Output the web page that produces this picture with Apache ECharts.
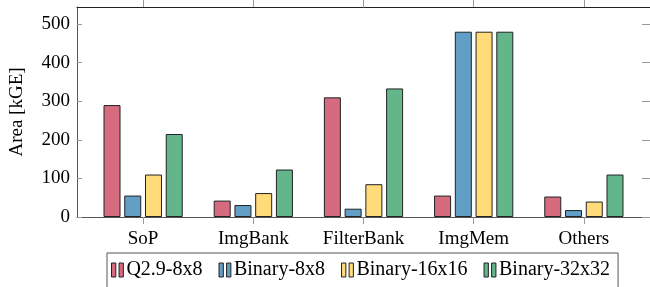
<!DOCTYPE html>
<html>
<head>
<meta charset="utf-8">
<script src="https://cdn.jsdelivr.net/npm/echarts@6/dist/echarts.min.js"></script>
<style>html,body{margin:0;padding:0;background:#fff}#c{width:650px;height:287px}</style>
</head>
<body>
<div id="c"></div>
<script>
const categories = ['SoP', 'ImgBank', 'FilterBank', 'ImgMem', 'Others'];
const seriesNames = ['Q2.9-8x8', 'Binary-8x8', 'Binary-16x16', 'Binary-32x32'];
const q29_8x8 = [290, 42.5, 310, 55.5, 53];
const binary_8x8 = [55.5, 31, 21.5, 480, 18];
const binary_16x16 = [110, 62, 85, 480, 40];
const binary_32x32 = [215, 123, 333, 480, 110];
const yTicks = [0, 100, 200, 300, 400, 500];
const colors = ['#D66A7F', '#619FC6', '#FFDB7A', '#63B68A'];

const allValues = [q29_8x8, binary_8x8, binary_16x16, binary_32x32];
const catIdx = categories.map((c, i) => i);
const font = 'Liberation Serif';
const legendIcon = 'path://M0,0h4v13h-4z M7,0h4v13h-4z';

const chart = echarts.init(document.getElementById('c'), null, {renderer: 'canvas'});
chart.setOption({
  animation: false,
  backgroundColor: '#fff',
  textStyle: {fontFamily: font},
  grid: {left: 75, right: -4, top: 7, bottom: 70, containLabel: false},
  legend: {
    left: 107, top: 253,
    data: seriesNames,
    icon: legendIcon,
    itemWidth: 12, itemHeight: 14,
    itemGap: 16,
    padding: [7, 8, 8, 4],
    borderColor: '#555', borderWidth: 1,
    textStyle: {fontFamily: font, fontSize: 20, color: '#000', padding: [0, 0, 0, -2]},
    itemStyle: {borderColor: '#222', borderWidth: 1}
  },
  xAxis: [{
    type: 'value', min: -0.6, max: 4.6, position: 'bottom',
    splitLine: {show: false},
    axisLine: {show: true, onZero: false, lineStyle: {color: '#555', width: 1}},
    axisTick: {show: true, customValues: catIdx, length: 7, lineStyle: {color: '#999'}},
    axisLabel: {customValues: catIdx, formatter: v => categories[Math.round(v)], fontFamily: font, fontSize: 19, color: '#000', margin: 13}
  }, {
    type: 'value', min: -0.6, max: 4.6, position: 'top',
    splitLine: {show: false},
    axisLine: {show: true, onZero: false, lineStyle: {color: '#222', width: 1}},
    axisTick: {show: true, customValues: catIdx, length: 7, lineStyle: {color: '#999'}},
    axisLabel: {show: false}
  }],
  yAxis: [{
    type: 'value', min: 0, max: 544, position: 'left',
    name: 'Area [kGE]', nameLocation: 'middle', nameGap: 50,
    nameTextStyle: {fontFamily: font, fontSize: 19, color: '#000'},
    splitLine: {show: false},
    axisLine: {show: true, onZero: false, lineStyle: {color: '#555', width: 1}},
    axisTick: {show: true, inside: true, customValues: yTicks, length: 5, lineStyle: {color: '#999'}},
    axisLabel: {customValues: yTicks, fontFamily: font, fontSize: 19, color: '#000', margin: 7}
  }, {
    type: 'value', min: 0, max: 544, position: 'right',
    splitLine: {show: false},
    axisLine: {show: true, onZero: false, lineStyle: {color: '#555', width: 1}},
    axisTick: {show: true, inside: true, customValues: yTicks, length: 8, lineStyle: {color: '#999'}},
    axisLabel: {show: false}
  }],
  series: seriesNames.map((name, s) => ({
    name: name,
    type: 'bar',
    xAxisIndex: 0, yAxisIndex: 0,
    barWidth: 17,
    barGap: '22%',
    itemStyle: {color: colors[s], borderColor: '#222', borderWidth: 1},
    data: allValues[s].map((v, i) => [catIdx[i], v])
  }))
});
</script>
</body>
</html>
